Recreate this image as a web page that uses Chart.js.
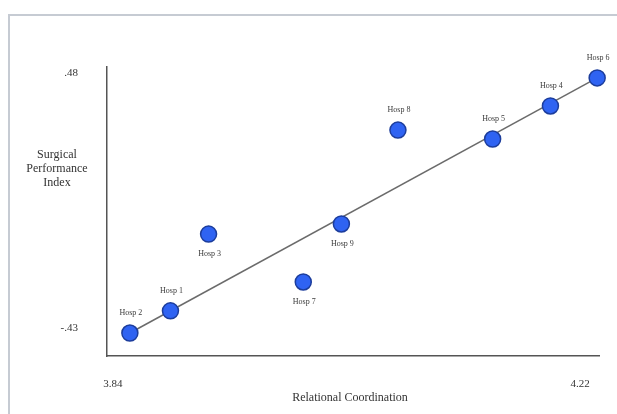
<!DOCTYPE html>
<html>
<head>
<meta charset="utf-8">
<style>
  html, body { margin: 0; padding: 0; background: #ffffff; }
  #wrap { position: relative; width: 617px; height: 414px; }
</style>
<script src="https://cdn.jsdelivr.net/npm/chart.js@4/dist/chart.umd.min.js"></script>
</head>
<body>
<div id="wrap"><canvas id="c" width="617" height="414"></canvas></div>
<script>
// ---- data ----
const hospitals   = ['Hosp 2', 'Hosp 1', 'Hosp 3', 'Hosp 7', 'Hosp 9', 'Hosp 8', 'Hosp 5', 'Hosp 4', 'Hosp 6'];
const coordination = [3.840, 3.873, 3.904, 3.981, 4.012, 4.058, 4.135, 4.182, 4.220];
const performance  = [-0.430, -0.351, -0.077, -0.248, -0.041, 0.294, 0.262, 0.380, 0.480];
const labelSide    = ['above', 'above', 'below', 'below', 'below', 'above', 'above', 'above', 'above'];
const fitX = [3.84, 4.22];
const fitY = [-0.43, 0.48];
const xTickLabels = ['3.84', '4.22'];
const yTickLabels = ['-.43', '.48'];
const xTitle = 'Relational Coordination';
const yTitleLines = ['Surgical', 'Performance', 'Index'];

const points = hospitals.map((h, i) => ({ x: coordination[i], y: performance[i], label: h, side: labelSide[i] }));
const fitLine = fitX.map((x, i) => ({ x: x, y: fitY[i] }));
const xTickValues = xTickLabels.map(Number);
const yTickValues = yTickLabels.map(Number);

const SERIF = '"Liberation Serif", "DejaVu Serif", serif';

const decor = {
  id: 'decor',
  beforeDraw(chart) {
    const ctx = chart.ctx;
    ctx.save();
    ctx.fillStyle = '#ffffff';
    ctx.fillRect(0, 0, chart.width, chart.height);
    // outer frame (left + top)
    ctx.strokeStyle = '#c6cbd3';
    ctx.lineWidth = 2;
    ctx.beginPath();
    ctx.moveTo(9, chart.height);
    ctx.lineTo(9, 15);
    ctx.lineTo(chart.width, 15);
    ctx.stroke();
    ctx.restore();
  },
  afterDraw(chart) {
    const ctx = chart.ctx;
    const area = chart.chartArea;
    ctx.save();
    ctx.fillStyle = '#333333';
    ctx.textAlign = 'center';
    ctx.textBaseline = 'middle';
    ctx.font = '12px ' + SERIF;
    // y title (horizontal, stacked)
    yTitleLines.forEach((t, i) => ctx.fillText(t, 57, 155 + i * 14));
    // x title
    ctx.fillText(xTitle, (area.left + area.right) / 2 - 3, 398);
    // point labels
    const meta = chart.getDatasetMeta(1);
    ctx.font = '8px ' + SERIF;
    ctx.fillStyle = '#3a3a3a';
    meta.data.forEach((el, i) => {
      const p = points[i];
      const dy = p.side === 'above' ? -20 : 20;
      ctx.fillText(p.label, el.x + 1, el.y + dy);
    });
    ctx.restore();
  }
};

new Chart(document.getElementById('c'), {
  type: 'scatter',
  data: {
    datasets: [
      {
        type: 'line',
        data: fitLine,
        borderColor: '#6b6b6b',
        borderWidth: 1.5,
        pointRadius: 0,
        fill: false,
        tension: 0,
        order: 2
      },
      {
        data: points,
        backgroundColor: '#2f63f2',
        borderColor: '#1c3d9c',
        borderWidth: 1.5,
        pointRadius: 8,
        pointHoverRadius: 8,
        clip: false,
        order: 1
      }
    ]
  },
  options: {
    responsive: false,
    animation: false,
    events: [],
    layout: { padding: { left: 0, right: 18, top: 67, bottom: 0 } },
    plugins: { legend: { display: false }, tooltip: { enabled: false } },
    scales: {
      x: {
        type: 'linear',
        min: 3.8214,
        max: 4.2215,
        afterBuildTicks: s => { s.ticks = xTickValues.map(v => ({ value: v })); },
        afterFit: s => { s.height = 58; s.paddingLeft = 0; s.paddingRight = 0; },
        grid: { display: false },
        border: { display: true, color: '#555555', width: 1.5 },
        ticks: {
          callback: (v, i) => xTickLabels[i],
          font: { family: SERIF, size: 11 },
          color: '#333333',
          padding: 14,
          labelOffset: -17,
          maxRotation: 0,
          autoSkip: false
        }
      },
      y: {
        type: 'linear',
        min: -0.512,
        max: 0.519,
        afterBuildTicks: s => { s.ticks = yTickValues.map(v => ({ value: v })); },
        afterFit: s => { s.width = 107; s.paddingTop = 0; s.paddingBottom = 0; },
        grid: { display: false },
        border: { display: true, color: '#555555', width: 1.5 },
        ticks: {
          callback: (v, i) => yTickLabels[i],
          font: { family: SERIF, size: 11 },
          color: '#333333',
          padding: 21,
          labelOffset: -5,
          autoSkip: false
        }
      }
    }
  },
  plugins: [decor]
});
</script>
</body>
</html>
